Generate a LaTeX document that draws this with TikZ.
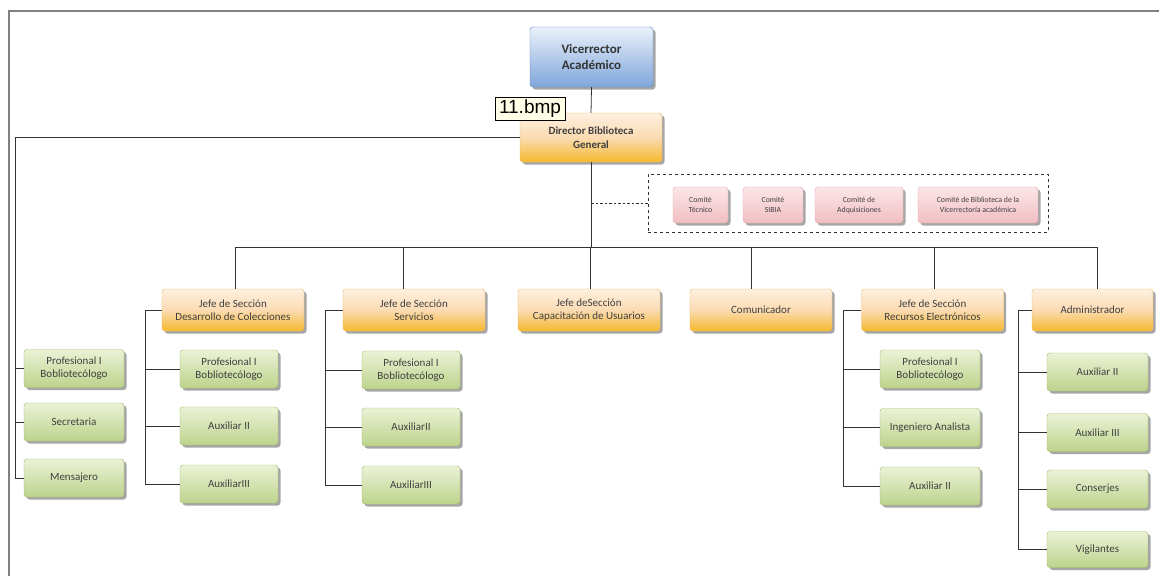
\documentclass[tikz,border=0pt]{standalone}
\usepackage{fontspec}
\setmainfont{Carlito}
\newfontfamily\lblfont{Liberation Sans}
\usetikzlibrary{shadows}
\definecolor{txt}{HTML}{404040}
\definecolor{gtop}{HTML}{EBF2D6}
\definecolor{gbot}{HTML}{BDD38C}
\definecolor{gdraw}{HTML}{A0BB68}
\definecolor{otop}{HTML}{FEF0E0}
\definecolor{omid}{HTML}{FBDBB2}
\definecolor{obot}{HTML}{F5B92E}
\definecolor{odraw}{HTML}{EFB45A}
\definecolor{btop}{HTML}{EAF1FB}
\definecolor{bbot}{HTML}{7FA6DA}
\definecolor{bdraw}{HTML}{5B84BE}
\definecolor{ptop}{HTML}{FCE6E8}
\definecolor{pbot}{HTML}{F1BEC2}
\definecolor{pdraw}{HTML}{E5AAAF}
\definecolor{framec}{HTML}{808080}
\definecolor{lblfill}{HTML}{FFFFE8}
\definecolor{linec}{HTML}{333333}
\begin{document}
\begin{tikzpicture}[x=1pt,y=-1pt,
  box/.style={rounded corners=3pt, align=center, inner sep=1pt, text=txt,
    font=\fontsize{11}{13}\selectfont,
    drop shadow={shadow xshift=2.5pt, shadow yshift=-2.5pt, fill=black, opacity=0.35}},
  gbox/.style={box, draw=gdraw, top color=gtop, bottom color=gbot, minimum height=38pt},
  obox/.style={box, draw=odraw, top color=otop, bottom color=obot, middle color=omid,
    minimum height=42pt, minimum width=142pt},
  pbox/.style={box, draw=pdraw, top color=ptop, bottom color=pbot, minimum height=36pt,
    font=\fontsize{7.8}{10}\selectfont},
  conn/.style={draw=linec, line width=0.8pt},
]
\useasboundingbox (0,0) rectangle (1159,576);
\fill[white] (0,0) rectangle (1159,576);
\draw[framec, line width=2pt] (9,576) -- (9,11) -- (1159,11);

% top
\node[box, draw=bdraw, top color=btop, bottom color=bbot, minimum width=123pt, minimum height=60pt,
  font=\bfseries\fontsize{13}{16}\selectfont, text=black!80] (vr) at (591.5,57) {Vicerrector\\Académico};
\node[obox, minimum width=142pt, minimum height=49pt, font=\bfseries\fontsize{11}{14}\selectfont] (dir) at (591,137.5) {Director Biblioteca\\General};

% committees
\node[draw=linec, dashed, line width=0.8pt, minimum width=400pt, minimum height=58pt] (comites) at (848,203) {};
\node[pbox, minimum width=55pt] (c1) at (700.5,205) {Comité\\Técnico};
\node[pbox, minimum width=60pt] (c2) at (773,205) {Comité\\SIBIA};
\node[pbox, minimum width=88pt] (c3) at (859,205) {Comité de\\Adquisiciones};
\node[pbox, minimum width=120pt] (c4) at (978,205) {Comité de Biblioteca de la\\Vicerrectoría académica};

% level 2
\node[obox] (jd) at (233,310) {Jefe de Sección\\Desarrollo de Colecciones};
\node[obox] (js) at (414,310) {Jefe de Sección\\Servicios};
\node[obox] (jc) at (589,310) {Jefe deSección\\Capacitación de Usuarios};
\node[obox] (jm) at (761,310) {Comunicador};
\node[obox] (jr) at (932.5,310) {Jefe de Sección\\Recursos Electrónicos};
\node[obox, minimum width=121pt] (ja) at (1092.5,310) {Administrador};

% left group
\node[gbox, minimum width=100pt] (l1) at (74,368.5) {Profesional I\\Bobliotecólogo};
\node[gbox, minimum width=100pt] (l2) at (74,422) {Secretaria};
\node[gbox, minimum width=100pt] (l3) at (74,478) {Mensajero};

% desarrollo
\node[gbox, minimum width=98pt] (d1) at (229,369) {Profesional I\\Bobliotecólogo};
\node[gbox, minimum width=98pt] (d2) at (229,426) {Auxiliar II};
\node[gbox, minimum width=98pt] (d3) at (229,484) {AuxiliarIII};

% servicios
\node[gbox, minimum width=98pt] (s1) at (411,370) {Profesional I\\Bobliotecólogo};
\node[gbox, minimum width=98pt] (s2) at (411,427) {AuxiliarII};
\node[gbox, minimum width=98pt] (s3) at (411,485) {AuxiliarIII};

% recursos
\node[gbox, minimum width=100pt] (r1) at (930,369) {Profesional I\\Bobliotecólogo};
\node[gbox, minimum width=100pt] (r2) at (930,427.5) {Ingeniero Analista};
\node[gbox, minimum width=100pt] (r3) at (930,486) {Auxiliar II};

% administrador
\node[gbox, minimum width=101pt] (a1) at (1097.5,372) {Auxiliar II};
\node[gbox, minimum width=101pt] (a2) at (1097.5,432.5) {Auxiliar III};
\node[gbox, minimum width=101pt] (a3) at (1097.5,489) {Conserjes};
\node[gbox, minimum width=101pt, minimum height=36pt] (a4) at (1097.5,549.5) {Vigilantes};

% coordinates
\coordinate (bus) at (591,247);
\coordinate (bl) at (15,0);
\coordinate (bd) at (145,0);
\coordinate (bs) at (325,0);
\coordinate (br) at (843,0);
\coordinate (ba) at (1018,0);

% connectors
\draw[conn] (vr.south) -- (dir.north);
\draw[conn] (dir.south) -- (bus);
\draw[conn, dashed, dash pattern=on 2.5pt off 2pt] (dir.south |- comites.west) -- (comites.west);
\draw[conn] ([xshift=2pt]jd.north |- bus) -- ([xshift=4.5pt]ja.north |- bus);
\draw[conn] ([xshift=2pt]jd.north) -- ([xshift=2pt]jd.north |- bus);
\draw[conn] ([xshift=-11pt]js.north) -- ([xshift=-11pt]js.north |- bus);
\draw[conn] ([xshift=1pt]jc.north) -- ([xshift=1pt]jc.north |- bus);
\draw[conn] ([xshift=-10pt]jm.north) -- ([xshift=-10pt]jm.north |- bus);
\draw[conn] ([xshift=1.5pt]jr.north) -- ([xshift=1.5pt]jr.north |- bus);
\draw[conn] ([xshift=4.5pt]ja.north) -- ([xshift=4.5pt]ja.north |- bus);

% left bracket
\draw[conn] (dir.west) -- (dir.west -| bl) -- (l3.west -| bl) -- (l3.west);
\draw[conn] (l1.west) -- (l1.west -| bl);
\draw[conn] (l2.west) -- (l2.west -| bl);
% desarrollo bracket
\draw[conn] (jd.west) -- (jd.west -| bd) -- (d3.west -| bd) -- (d3.west);
\draw[conn] (d1.west) -- (d1.west -| bd);
\draw[conn] (d2.west) -- (d2.west -| bd);
% servicios bracket
\draw[conn] (js.west) -- (js.west -| bs) -- (s3.west -| bs) -- (s3.west);
\draw[conn] (s1.west) -- (s1.west -| bs);
\draw[conn] (s2.west) -- (s2.west -| bs);
% recursos bracket
\draw[conn] (jr.west) -- (jr.west -| br) -- (r3.west -| br) -- (r3.west);
\draw[conn] (r1.west) -- (r1.west -| br);
\draw[conn] (r2.west) -- (r2.west -| br);
% administrador bracket
\draw[conn] (ja.west) -- (ja.west -| ba) -- (a4.west -| ba) -- (a4.west);
\draw[conn] (a1.west) -- (a1.west -| ba);
\draw[conn] (a2.west) -- (a2.west -| ba);
\draw[conn] (a3.west) -- (a3.west -| ba);

% image label
\node[draw=black, line width=0.8pt, fill=lblfill, font=\lblfont\fontsize{19}{19}\selectfont,
  inner xsep=4pt, inner ysep=1pt, minimum height=23pt] (lbl) at (530,108.5) {11.bmp};
\end{tikzpicture}
\end{document}
